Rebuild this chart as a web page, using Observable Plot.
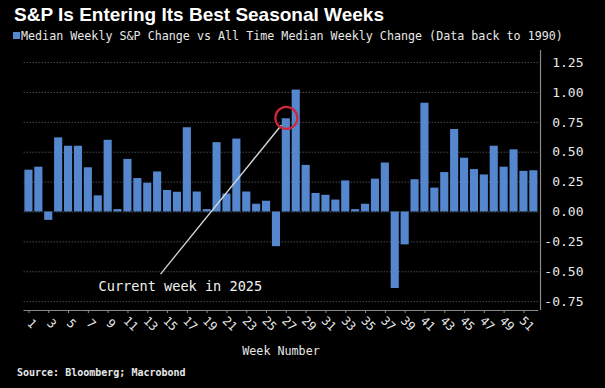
<!DOCTYPE html>
<html>
<head>
<meta charset="utf-8">
<script src="https://cdn.jsdelivr.net/npm/d3@7"></script>
<script src="https://cdn.jsdelivr.net/npm/@observablehq/plot@0.6"></script>
<style>
  html, body { margin: 0; padding: 0; background: #000; }
  #wrap { position: relative; width: 605px; height: 388px; overflow: hidden; background: #000; }
  .abs { position: absolute; white-space: nowrap; color: #fff; }
  #title { left: 14px; top: 5px; font: bold 19px "Liberation Sans", Arial, sans-serif; line-height: 19px; }
  #sub { left: 21px; top: 30px; font: 11.7px "DejaVu Sans Mono", monospace; line-height: 12px; color: #e8e8e8; }
  #sq { left: 13px; top: 32px; width: 7px; height: 7px; background: #5487cd; }
  #xlab { left: 0; width: 562px; text-align: center; top: 345px; font: 11.7px "DejaVu Sans Mono", monospace; line-height: 12px; color: #e8e8e8; }
  #src { left: 17px; top: 367px; font: bold 10px "DejaVu Sans Mono", monospace; line-height: 11px; color: #e8e8e8; }
  #chart { position: absolute; left: 0; top: 0; }
</style>
</head>
<body>
<div id="wrap">
  <div id="chart"></div>
  <div class="abs" id="title">S&amp;P Is Entering Its Best Seasonal Weeks</div>
  <div class="abs" id="sq"></div>
  <div class="abs" id="sub">Median Weekly S&amp;P Change vs All Time Median Weekly Change (Data back to 1990)</div>
  <div class="abs" id="xlab">Week Number</div>
  <div class="abs" id="src">Source: Bloomberg; Macrobond</div>
</div>
<script>
const weeks = d3.range(1, 53);
const values = [
  0.35, 0.375, -0.07, 0.62, 0.55, 0.55, 0.37, 0.135, 0.60, 0.02,
  0.44, 0.28, 0.24, 0.335, 0.18, 0.165, 0.705, 0.167, 0.02, 0.58,
  0.15, 0.61, 0.167, 0.065, 0.09, -0.29, 0.78, 1.02, 0.39, 0.155,
  0.14, 0.10, 0.26, 0.02, 0.065, 0.275, 0.41, -0.64, -0.275, 0.27,
  0.91, 0.20, 0.33, 0.69, 0.45, 0.355, 0.31, 0.55, 0.375, 0.52,
  0.34, 0.345
];
const yTicks = [-0.75, -0.5, -0.25, 0, 0.25, 0.5, 0.75, 1, 1.25];
const xTickLabels = d3.range(1, 53, 2);
const annotationText = "Current week in 2025";
const currentWeek = 27;

const data = weeks.map((w, i) => ({week: w, value: values[i]}));
const current = data.find(d => d.week === currentWeek);

const yMin = -0.824, yMax = 1.351;

const chart = Plot.plot({
  width: 605,
  height: 388,
  marginTop: 50,
  marginBottom: 78,
  marginLeft: 23.5,
  marginRight: 66.7,
  style: {background: "transparent", color: "#e8e8e8", fontFamily: "DejaVu Sans Mono, monospace"},
  x: {domain: [0.5, 52.5], axis: null},
  y: {domain: [yMin, yMax], axis: null},
  marks: [
    Plot.ruleY(yTicks, {stroke: "#4a4a4a", strokeDasharray: "1.5,1.5", strokeWidth: 1}),
    Plot.rectY(data, {x1: d => d.week - 0.41, x2: d => d.week + 0.41, y1: 0, y2: "value", fill: "#5487cd"}),
    Plot.ruleY([yMin], {stroke: "#8a8a8a", strokeWidth: 1.2}),
    Plot.ruleX([52.5], {stroke: "#8a8a8a", strokeWidth: 1.2, dx: 1.7}),
    Plot.axisX({ticks: xTickLabels, tickSize: 3, tickFormat: () => "", stroke: "#8a8a8a", anchor: "bottom"}),
    Plot.text(xTickLabels, {x: d => d, frameAnchor: "bottom", dy: 16, rotate: 45, text: d => String(d), fill: "#e8e8e8", fontSize: 12, textAnchor: "middle"}),
    Plot.text(yTicks, {y: d => d, frameAnchor: "right", dx: 44.7, text: d => d.toFixed(2), fill: "#e8e8e8", fontSize: 13, textAnchor: "end"}),
    Plot.link([{x1: 26.51, y1: 0.728, x2: 14.29, y2: -0.519}], {x1: "x1", y1: "y1", x2: "x2", y2: "y2", stroke: "#d8d8d8", strokeWidth: 1.3}),
    Plot.dot([current], {x: "week", y: d => 0.787, r: 11, stroke: "#d0263a", strokeWidth: 2.2, fill: "none"}),
    Plot.text([annotationText], {x: 8.03, y: -0.628, text: d => d, textAnchor: "start", fill: "#f0f0f0", fontSize: 13.6})
  ]
});
document.getElementById("chart").appendChild(chart);
</script>
</body>
</html>
